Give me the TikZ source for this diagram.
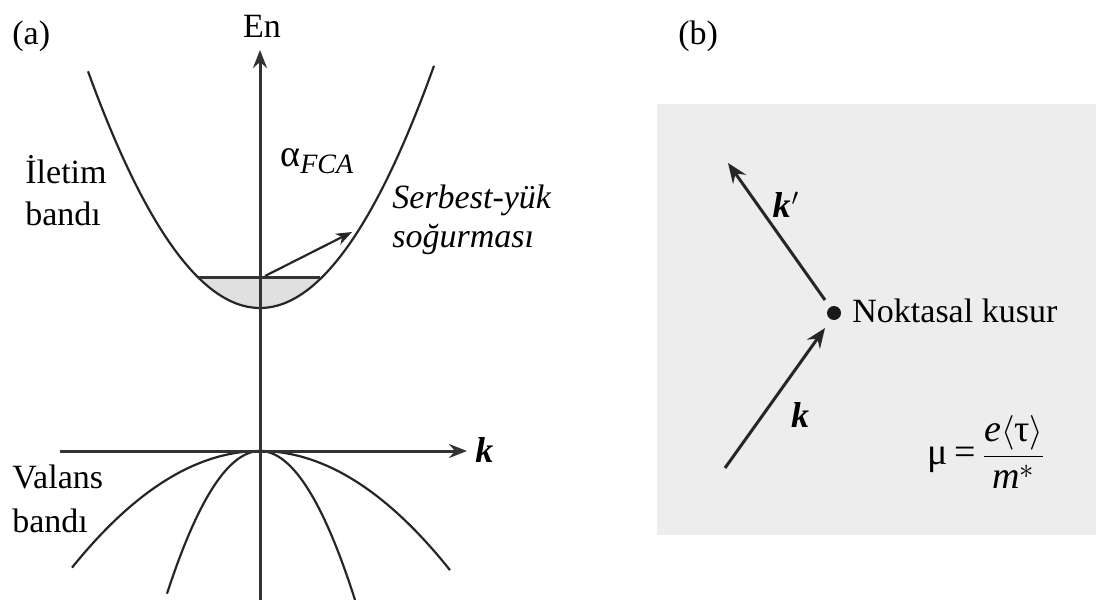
\documentclass[tikz,border=0pt]{standalone}
\usepackage{fontspec}
\setmainfont{Liberation Serif}
\usetikzlibrary{arrows.meta}
\begin{document}
\begin{tikzpicture}[x=0.5pt,y=-0.5pt,
  lbl/.style={inner sep=0pt,font=\fontsize{17}{20}\selectfont},
  axis/.style={draw=black!80,line width=1.5pt},
  band/.style={draw=black!85,line width=1.1pt},
  tip/.style={-{Stealth[length=9pt,width=7pt,inset=3pt]}},
  vec/.style={draw=black!85,line width=1.5pt,-{Stealth[length=10pt,width=8pt,inset=3.5pt]}}]
\useasboundingbox (0,0) rectangle (1096,604);
% ---- panel (a) ----
\fill[black!12] (198,277) -- plot[domain=-62:62,smooth,samples=40] ({260+\x},{308-80*(\x/100)*(\x/100)}) -- cycle;
\draw[band] plot[domain=-172:174,smooth,samples=80] ({260+\x},{308-80*(\x/100)*(\x/100)});
\draw[band] plot[domain=-188:190,smooth,samples=80] ({260+\x},{451+33*(\x/100)*(\x/100)});
\draw[band] plot[domain=-93:95,smooth,samples=60] ({260+\x},{451+165*(\x/100)*(\x/100)});
\draw[axis] (198,277) -- (320,277);
\coordinate (ybot) at (260,600);
\coordinate (ytop) at (260,50);
\coordinate (xl) at (60,451);
\coordinate (xr) at (467,451);
\draw[axis,tip] (ybot) -- (ytop);
\draw[axis,tip] (xl) -- (xr);
\coordinate (fs) at (265,276);
\coordinate (fe) at (352,232);
\draw[draw=black!85,line width=1.1pt,-{Stealth[length=8pt,width=6pt,inset=2.5pt]}] (fs) -- (fe);
\node[lbl,anchor=base west] (la) at (12,45) {(a)};
\node[lbl,anchor=base] (en) at (262,38) {En};
\node[lbl,anchor=base west] (il1) at (25,184) {İletim};
\node[lbl,anchor=base west] (il2) at (25,226) {bandı};
\node[lbl,anchor=base west] (va1) at (12,488) {Valans};
\node[lbl,anchor=base west] (va2) at (12,532) {bandı};
\node[lbl,anchor=base west] (al) at (280,167) {\fontsize{19}{20}\selectfont α\raisebox{-0.35ex}{\fontsize{14}{15}\selectfont\itshape FCA}};
\node[lbl,anchor=base west] (sb1) at (392,208) {\itshape Serbest-yük};
\node[lbl,anchor=base west] (sb2) at (392,248) {\itshape soğurması};
\node[lbl,anchor=base west] (kax) at (475,462) {\fontsize{18}{20}\selectfont\bfseries\itshape k};
% ---- panel (b) ----
\fill[black!7] (657,104) rectangle (1096,535);
\node[lbl,anchor=base west] (lb) at (678,45) {(b)};
\node[circle,fill=black!90,minimum size=7pt,inner sep=0pt] (dot) at (834,313) {};
\coordinate (kps) at (825,300);
\coordinate (kpe) at (728,163);
\coordinate (ks) at (725,468);
\coordinate (ke) at (825,328);
\draw[vec] (kps) -- (kpe);
\draw[vec] (ks) -- (ke);
\node[lbl,anchor=west] (nk) at (852,311) {Noktasal kusur};
\node[lbl] (kp) at (786,205) {\fontsize{18}{20}\selectfont\bfseries\itshape k\kern0.5pt$'$};
\node[lbl] (kk) at (800,415) {\fontsize{18}{20}\selectfont\bfseries\itshape k};
\node[lbl,anchor=west,font=\fontsize{19}{22}\selectfont] (mu) at (927,452) {μ\,=\,$\displaystyle\frac{\mbox{\itshape e}\langle\mbox{τ}\rangle}{\mbox{\itshape m}^{*}}$};
\end{tikzpicture}
\end{document}
